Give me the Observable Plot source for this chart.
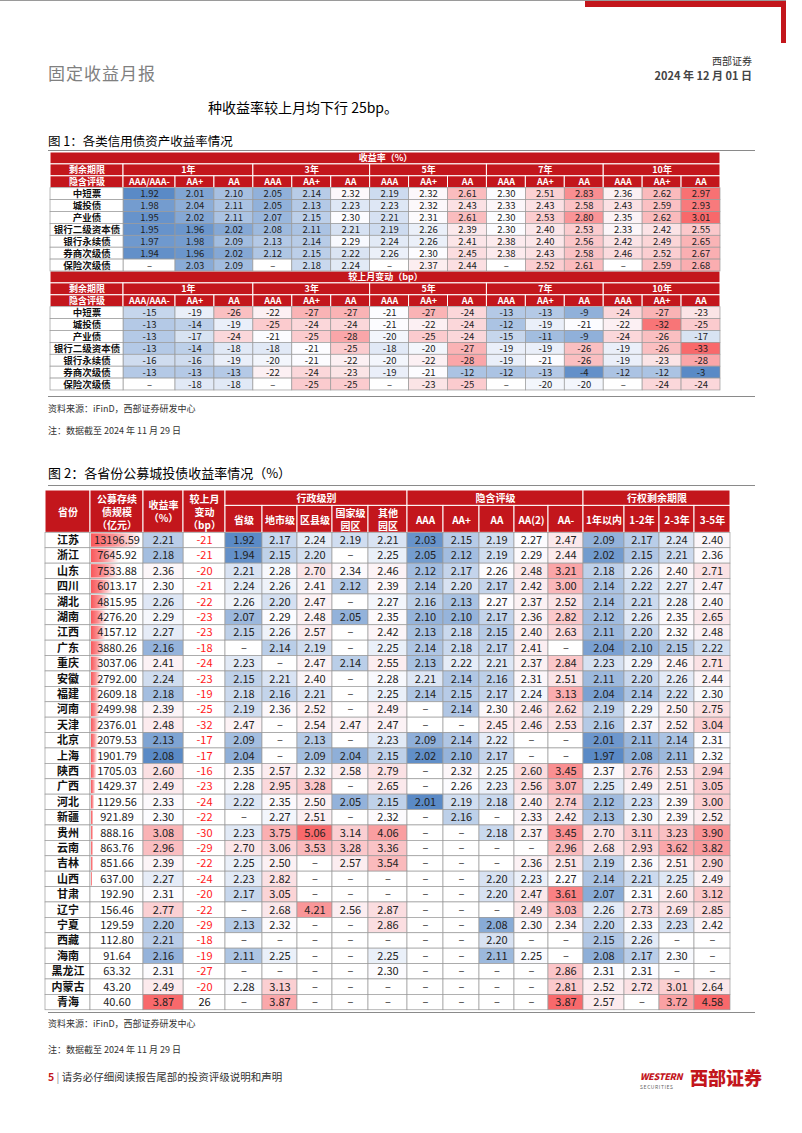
<!DOCTYPE html>
<html><head><meta charset="utf-8">
<script src="https://cdn.jsdelivr.net/npm/d3@7"></script>
<script src="https://cdn.jsdelivr.net/npm/@observablehq/plot@0.6"></script>
<style>
body{margin:0;background:#fff;font-family:"Noto Sans CJK SC","Noto Sans",sans-serif;}
#page{position:relative;width:802px;height:1133px;overflow:hidden;background:#fff;}
.abs{position:absolute;white-space:nowrap;line-height:1;}
.hl{position:absolute;height:1px;background:#8a8a8a;}
</style></head><body><div id="page"></div>
<script>
// ---------------- Figure 1 data ----------------
const t1Terms = ["1年","3年","5年","7年","10年"];
const t1Ratings = ["AAA/AAA-","AA+","AA","AAA","AA+","AA","AAA","AA+","AA","AAA","AA+","AA","AAA","AA+","AA"];
const t1Bonds = ["中短票","城投债","产业债","银行二级资本债","银行永续债","券商次级债","保险次级债"];
const t1Yield = [
 [1.92,2.01,2.10,2.05,2.14,2.32,2.19,2.32,2.61,2.30,2.51,2.83,2.36,2.62,2.97],
 [1.98,2.04,2.11,2.05,2.13,2.23,2.23,2.32,2.43,2.33,2.43,2.58,2.43,2.59,2.93],
 [1.95,2.02,2.11,2.07,2.15,2.30,2.21,2.31,2.61,2.30,2.53,2.80,2.35,2.62,3.01],
 [1.95,1.96,2.02,2.08,2.11,2.21,2.19,2.26,2.39,2.30,2.40,2.53,2.33,2.42,2.55],
 [1.97,1.98,2.09,2.13,2.14,2.29,2.24,2.26,2.41,2.38,2.40,2.56,2.42,2.49,2.65],
 [1.94,1.96,2.02,2.12,2.15,2.22,2.26,2.30,2.45,2.38,2.43,2.58,2.46,2.52,2.67],
 [null,2.03,2.09,null,2.18,2.24,null,2.37,2.44,null,2.52,2.61,null,2.59,2.68]
];
const t1Change = [
 [-15,-19,-26,-22,-27,-27,-21,-27,-24,-13,-13,-9,-24,-27,-23],
 [-13,-14,-19,-25,-24,-24,-21,-22,-24,-12,-19,-21,-22,-32,-25],
 [-13,-17,-24,-21,-25,-28,-20,-25,-24,-15,-11,-9,-24,-26,-17],
 [-13,-14,-18,-18,-21,-25,-18,-20,-27,-19,-19,-26,-19,-26,-33],
 [-16,-16,-19,-20,-21,-22,-20,-22,-28,-19,-21,-26,-19,-23,-28],
 [-13,-13,-13,-22,-24,-23,-19,-21,-12,-12,-13,-4,-12,-12,-3],
 [null,-18,-18,null,-25,-25,null,-23,-25,null,-20,-20,null,-24,-24]
];

// ---------------- Figure 2 data ----------------
const provinces = ["江苏","浙江","山东","四川","湖北","湖南","江西","广东","重庆","安徽","福建","河南","天津","北京","上海","陕西","广西","河北","新疆","贵州","云南","吉林","山西","甘肃","辽宁","宁夏","西藏","海南","黑龙江","内蒙古","青海"];
const bondSize = [13196.59,7645.92,7533.88,6013.17,4815.95,4276.20,4157.12,3880.26,3037.06,2792.00,2609.18,2499.98,2376.01,2079.53,1901.79,1705.03,1429.37,1129.56,921.89,888.16,863.76,851.66,637.00,192.90,156.46,129.59,112.80,91.64,63.32,43.20,40.60];
const provYield = [2.21,2.18,2.36,2.30,2.26,2.29,2.27,2.16,2.41,2.24,2.18,2.39,2.48,2.13,2.08,2.60,2.49,2.33,2.30,3.08,2.96,2.39,2.27,2.31,2.77,2.20,2.21,2.16,2.31,2.49,3.87];
const provChange = [-21,-21,-20,-21,-22,-23,-23,-18,-24,-23,-19,-25,-32,-17,-17,-16,-23,-24,-22,-30,-29,-22,-24,-20,-22,-29,-18,-19,-27,-20,26];
const adminLevels = ["省级","地市级","区县级","国家级\n园区","其他\n园区"];
const adminYield = [
 [1.92,2.17,2.24,2.19,2.21],[1.94,2.15,2.20,null,2.25],[2.21,2.28,2.70,2.34,2.46],[2.24,2.26,2.41,2.12,2.39],
 [2.26,2.20,2.47,null,2.27],[2.07,2.29,2.48,2.05,2.35],[2.15,2.26,2.57,null,2.42],[null,2.14,2.19,null,2.25],
 [2.23,null,2.47,2.14,2.55],[2.15,2.21,2.40,null,2.28],[2.18,2.16,2.21,null,2.25],[2.19,2.36,2.52,null,2.49],
 [2.47,null,2.54,2.47,2.47],[2.09,null,2.13,null,2.23],[2.04,null,2.09,2.04,2.15],[2.35,2.57,2.32,2.58,2.79],
 [2.28,2.95,3.28,null,2.65],[2.22,2.35,2.50,2.05,2.15],[null,2.27,2.51,null,2.32],[2.23,3.75,5.06,3.14,4.06],
 [2.70,3.06,3.53,3.28,3.36],[2.25,2.50,null,2.57,3.54],[2.23,2.82,null,null,null],[2.17,3.05,null,null,null],
 [null,2.68,4.21,2.56,2.87],[2.13,2.32,null,null,2.86],[null,null,null,null,null],[2.11,2.25,null,null,2.25],
 [null,null,null,null,2.30],[2.28,3.13,null,null,null],[null,3.87,null,null,null]
];
const ratingLabels = ["AAA","AA+","AA","AA(2)","AA-"];
const ratingYield = [
 [2.03,2.15,2.19,2.27,2.47],[2.05,2.12,2.19,2.29,2.44],[2.12,2.17,2.26,2.48,3.21],[2.14,2.20,2.17,2.42,3.00],
 [2.16,2.13,2.27,2.37,2.52],[2.10,2.10,2.17,2.36,2.82],[2.13,2.18,2.15,2.40,2.63],[2.14,2.18,2.17,2.41,null],
 [2.13,2.22,2.21,2.37,2.84],[2.21,2.14,2.16,2.31,2.51],[2.14,2.15,2.17,2.24,3.13],[null,2.14,2.30,2.46,2.62],
 [null,null,2.45,2.46,2.53],[2.09,2.14,2.22,null,null],[2.02,2.10,2.17,null,null],[null,2.32,2.25,2.60,3.45],
 [null,2.26,2.23,2.56,3.07],[2.01,2.19,2.18,2.40,2.74],[null,2.16,null,2.33,2.42],[null,null,2.18,2.37,3.45],
 [null,null,null,null,2.96],[null,null,null,2.36,2.51],[null,null,2.20,2.23,2.27],[null,null,2.20,2.47,3.61],
 [null,null,null,2.49,3.03],[null,null,2.08,2.30,2.34],[null,null,2.20,null,null],[null,null,2.11,2.25,null],
 [null,null,null,null,2.86],[null,null,null,null,2.81],[null,null,null,null,3.87]
];
const termLabels = ["1年以内","1-2年","2-3年","3-5年"];
const termYield = [
 [2.09,2.17,2.24,2.40],[2.02,2.15,2.21,2.36],[2.18,2.26,2.40,2.71],[2.14,2.22,2.27,2.47],
 [2.14,2.21,2.28,2.40],[2.12,2.26,2.35,2.65],[2.11,2.20,2.32,2.48],[2.04,2.10,2.15,2.22],
 [2.23,2.29,2.46,2.71],[2.11,2.20,2.26,2.44],[2.04,2.14,2.22,2.30],[2.19,2.29,2.50,2.75],
 [2.16,2.37,2.52,3.04],[2.01,2.11,2.14,2.31],[1.97,2.08,2.11,2.32],[2.37,2.76,2.53,2.94],
 [2.25,2.49,2.51,3.05],[2.12,2.23,2.39,3.00],[2.13,2.30,2.39,2.52],[2.70,3.11,3.23,3.90],
 [2.68,2.93,3.62,3.82],[2.19,2.36,2.51,2.90],[2.14,2.21,2.25,2.49],[2.07,2.31,2.60,3.12],
 [2.26,2.73,2.69,2.85],[2.20,2.33,2.23,2.42],[2.15,2.26,null,null],[2.08,2.17,2.30,null],
 [2.31,2.31,null,null],[2.52,2.72,3.01,2.64],[2.57,null,3.72,4.58]
];

// ---------------- styles / layout ----------------
const FONT = '"Noto Sans CJK SC","Noto Sans",sans-serif';
const RED = "#c3161c", BLUE = "#5A8AC6", MID = "#FCFCFF", PINK = "#F8696B", GRID = "#9a9a9a";
const page = document.getElementById("page");
function addText(txt, css){ const d=document.createElement("div"); d.className="abs"; d.innerHTML=txt; Object.assign(d.style, css); page.appendChild(d); return d; }
function addLine(left, top, width, color){ const d=document.createElement("div"); d.className="hl"; Object.assign(d.style,{left:left+"px",top:top+"px",width:width+"px",background:color||"#8a8a8a"}); page.appendChild(d); }
function edgesFrom(w){ const e=[0]; w.forEach(v=>e.push(e[e.length-1]+v)); return e; }
function heatScale(values, lo, hi){
  const v = values.filter(d=>d!=null).sort(d3.ascending);
  return d3.scaleLinear().domain([v[0], d3.quantileSorted(v,0.5), v[v.length-1]]).range([lo,MID,hi]).interpolate(d3.interpolateRgb).clamp(true);
}
const cx = d => (d.x1+d.x2)/2, cy = d => (d.y1+d.y2)/2;

// ---------------- page header ----------------
addLine(0,0,786,"#9a9a9a");
const rb=document.createElement("div"); Object.assign(rb.style,{position:"absolute",left:"585px",top:"1px",width:"201px",height:"6px",background:RED}); page.appendChild(rb);
const rv=document.createElement("div"); Object.assign(rv.style,{position:"absolute",left:"781px",top:"1px",width:"5px",height:"42px",background:RED}); page.appendChild(rv);
addText("固定收益月报",{left:"48px",top:"64px",fontSize:"17px",color:"#808080",letterSpacing:"1px"});
addText("西部证券",{right:"50px",top:"56px",fontSize:"10px",color:"#333"});
addText("2024 年 12 月 01 日",{right:"50px",top:"70px",fontSize:"11px",fontWeight:"bold",color:"#444"});
addText("种收益率较上月均下行 25bp。",{left:"208px",top:"100px",fontSize:"14px",color:"#000"});
addText("图 1：各类信用债资产收益率情况",{left:"48px",top:"135px",fontSize:"12.5px",color:"#000"});

// ---------------- table 1 ----------------
const t1W = [73, 52, ...Array(14).fill(38.93)];
const t1E = edgesFrom(t1W);
const t1Width = t1E[t1E.length-1];
const t1RowH = 11.9, t1Rows = 20;
function t1Header(r0, title){
  const c=[];
  c.push({x1:0,x2:t1Width,y1:r0,y2:r0+1,label:title});
  c.push({x1:0,x2:t1E[1],y1:r0+1,y2:r0+2,label:"剩余期限"});
  t1Terms.forEach((t,i)=>c.push({x1:t1E[1+3*i],x2:t1E[4+3*i],y1:r0+1,y2:r0+2,label:t}));
  c.push({x1:0,x2:t1E[1],y1:r0+2,y2:r0+3,label:"隐含评级"});
  t1Ratings.forEach((t,i)=>c.push({x1:t1E[1+i],x2:t1E[2+i],y1:r0+2,y2:r0+3,label:t}));
  return c;
}
function t1Cells(m, r0, scale, fmt){
  return m.flatMap((row,i)=>row.map((v,j)=>({x1:t1E[1+j],x2:t1E[2+j],y1:r0+i,y2:r0+i+1,
    fill: v==null?"#ffffff":scale(v.valueOf()), label: v==null?"–":fmt(v)})));
}
const yScale1 = heatScale(t1Yield.flat(), BLUE, PINK);
const cScale1 = heatScale(t1Change.flat(), PINK, BLUE);
const t1Head = [...t1Header(0,"收益率（%）"), ...t1Header(10,"较上月变动（bp）")];
const t1Data = [...t1Cells(t1Yield,3,yScale1,v=>v.toFixed(2)), ...t1Cells(t1Change,13,cScale1,v=>String(v))];
const t1Labels = [...t1Bonds.map((b,i)=>({x1:0,x2:t1E[1],y1:3+i,y2:4+i,label:b})), ...t1Bonds.map((b,i)=>({x1:0,x2:t1E[1],y1:13+i,y2:14+i,label:b}))];

const table1 = Plot.plot({
  width: t1Width, height: t1Rows*t1RowH, margin: 0,
  x:{domain:[0,t1Width], range:[0,t1Width], axis:null},
  y:{domain:[0,t1Rows], range:[0,t1Rows*t1RowH], axis:null},
  color:{type:"identity"},
  style:{fontFamily:FONT, background:"transparent", overflow:"visible"},
  marks:[
    Plot.rect(t1Head,{x1:"x1",x2:"x2",y1:"y1",y2:"y2",fill:RED,stroke:"#fff",strokeWidth:1}),
    Plot.text(t1Head,{x:cx,y:cy,text:"label",fill:"#fff",fontWeight:"bold",fontSize:9}),
    Plot.rect(t1Data,{x1:"x1",x2:"x2",y1:"y1",y2:"y2",fill:"fill",stroke:GRID,strokeWidth:0.7}),
    Plot.text(t1Data,{x:cx,y:cy,text:"label",fill:"#222",fontSize:9.5}),
    Plot.rect(t1Labels,{x1:"x1",x2:"x2",y1:"y1",y2:"y2",fill:"#fff",stroke:GRID,strokeWidth:0.7}),
    Plot.text(t1Labels,{x:cx,y:cy,text:"label",fill:"#111",fontSize:9.5,fontWeight:"bold"})
  ]
});
Object.assign(table1.style,{position:"absolute",left:"50px",top:"152px"});
page.appendChild(table1);
addLine(48,150,707,"#8a8a8a");
addLine(48,396,707,"#8a8a8a");
addText("资料来源：iFinD，西部证券研发中心",{left:"48px",top:"404px",fontSize:"9px",color:"#333"});
addText("注：数据截至 2024 年 11 月 29 日",{left:"48px",top:"426px",fontSize:"9px",color:"#333"});

// ---------------- table 2 ----------------
addText("图 2：各省份公募城投债收益率情况（%）",{left:"48px",top:"466px",fontSize:"13px",color:"#000"});
addLine(48,485,707,"#8a8a8a");
const t2W = [45,53,40,42,37,35,35,36,39,36,36,35,34,35,41,35,35,36];
const t2E = edgesFrom(t2W);
const t2Width = t2E[t2E.length-1];
const t2RowH = 15.4, H0 = 2.75, t2Rows = H0 + provinces.length;
const t2Head = [
  ...["省份","公募存续\n债规模\n（亿元）","收益率\n（%）","较上月\n变动\n（bp）"].map((l,i)=>({x1:t2E[i],x2:t2E[i+1],y1:0,y2:H0,label:l})),
  {x1:t2E[4],x2:t2E[9],y1:0,y2:1,label:"行政级别"},
  {x1:t2E[9],x2:t2E[14],y1:0,y2:1,label:"隐含评级"},
  {x1:t2E[14],x2:t2E[18],y1:0,y2:1,label:"行权剩余期限"},
  ...[...adminLevels,...ratingLabels,...termLabels].map((l,i)=>({x1:t2E[4+i],x2:t2E[5+i],y1:1,y2:H0,label:l}))
];
const yieldScale2 = heatScale(provYield, BLUE, PINK);
const adminScale = heatScale(adminYield.flat(), BLUE, PINK);
const ratingScale = heatScale(ratingYield.flat(), BLUE, PINK);
const termScale = heatScale(termYield.flat(), BLUE, PINK);
const t2Cells = [];
provinces.forEach((p,i)=>{
  const y1=H0+i, y2=H0+i+1;
  const push=(col,v,scale)=>t2Cells.push({x1:t2E[col],x2:t2E[col+1],y1,y2,fill:v==null?"#fff":scale(v),label:v==null?"–":v.toFixed(2)});
  push(2, provYield[i], yieldScale2);
  adminYield[i].forEach((v,j)=>push(4+j,v,adminScale));
  ratingYield[i].forEach((v,j)=>push(9+j,v,ratingScale));
  termYield[i].forEach((v,j)=>push(14+j,v,termScale));
});
const t2Names = provinces.map((p,i)=>({x1:t2E[0],x2:t2E[1],y1:H0+i,y2:H0+i+1,label:p}));
const maxSize = d3.max(bondSize);
const t2Size = bondSize.map((v,i)=>({x1:t2E[1],x2:t2E[2],y1:H0+i,y2:H0+i+1,v,barEnd:t2E[1]+v/maxSize*(t2W[1]-3),label:v.toFixed(2)}));
const t2Chg = provChange.map((v,i)=>({x1:t2E[3],x2:t2E[4],y1:H0+i,y2:H0+i+1,v,col:v<0?"#ff1a1a":"#111",label:String(v)}));

const table2 = Plot.plot({
  width: t2Width, height: t2Rows*t2RowH, margin: 0,
  x:{domain:[0,t2Width], range:[0,t2Width], axis:null},
  y:{domain:[0,t2Rows], range:[0,t2Rows*t2RowH], axis:null},
  color:{type:"identity"},
  style:{fontFamily:FONT, background:"transparent", overflow:"visible"},
  marks:[
    Plot.rect(t2Head,{x1:"x1",x2:"x2",y1:"y1",y2:"y2",fill:RED,stroke:"#fff",strokeWidth:1}),
    Plot.text(t2Head,{x:cx,y:cy,text:"label",fill:"#fff",fontWeight:"bold",fontSize:10,lineHeight:1.3}),
    Plot.rect(t2Names,{x1:"x1",x2:"x2",y1:"y1",y2:"y2",fill:"#fff",stroke:GRID,strokeWidth:0.7}),
    Plot.text(t2Names,{x:cx,y:cy,text:"label",fill:"#111",fontSize:11,fontWeight:"bold"}),
    Plot.rect(t2Size,{x1:"x1",x2:"x2",y1:"y1",y2:"y2",fill:"#fff",stroke:GRID,strokeWidth:0.7}),
    Plot.rect(t2Size,{x1:"x1",x2:"barEnd",y1:"y1",y2:"y2",fill:"url(#barGrad)",insetTop:1,insetBottom:1,insetLeft:1}),
    Plot.text(t2Size,{x:cx,y:cy,text:"label",fill:"#222",fontSize:11}),
    Plot.rect(t2Chg,{x1:"x1",x2:"x2",y1:"y1",y2:"y2",fill:"#fff",stroke:GRID,strokeWidth:0.7}),
    Plot.text(t2Chg,{x:cx,y:cy,text:"label",fill:"col",fontSize:11}),
    Plot.rect(t2Cells,{x1:"x1",x2:"x2",y1:"y1",y2:"y2",fill:"fill",stroke:GRID,strokeWidth:0.7}),
    Plot.text(t2Cells,{x:cx,y:cy,text:"label",fill:"#222",fontSize:11})
  ]
});
const defs = d3.select(table2).insert("defs",":first-child");
const grad = defs.append("linearGradient").attr("id","barGrad");
grad.append("stop").attr("offset","0%").attr("stop-color","#F8585B");
grad.append("stop").attr("offset","45%").attr("stop-color","#FA8F92");
grad.append("stop").attr("offset","100%").attr("stop-color","#FFFFFF");
Object.assign(table2.style,{position:"absolute",left:"45px",top:"490px"});
page.appendChild(table2);
addLine(48,1012,707,"#8a8a8a");
addText("资料来源：iFinD，西部证券研发中心",{left:"48px",top:"1019px",fontSize:"9px",color:"#333"});
addText("注：数据截至 2024 年 11 月 29 日",{left:"48px",top:"1045px",fontSize:"9px",color:"#333"});

// ---------------- footer ----------------
addText('<span style="color:#c3161c;font-weight:bold">5</span><span style="color:#888"> | </span>请务必仔细阅读报告尾部的投资评级说明和声明',{left:"48px",top:"1072px",fontSize:"10.5px",color:"#333"});
addText('<span style="font-style:italic;font-weight:900;letter-spacing:-0.3px">WESTERN</span><br><span style="font-size:5px;letter-spacing:0.6px;color:#666">SECURITIES</span>',{left:"640px",top:"1072px",fontSize:"9px",color:"#c3161c",lineHeight:"1.05"});
addText("西部证券",{left:"690px",top:"1068px",fontSize:"18px",fontWeight:"900",color:"#c3161c"});
</script>
</body></html>
